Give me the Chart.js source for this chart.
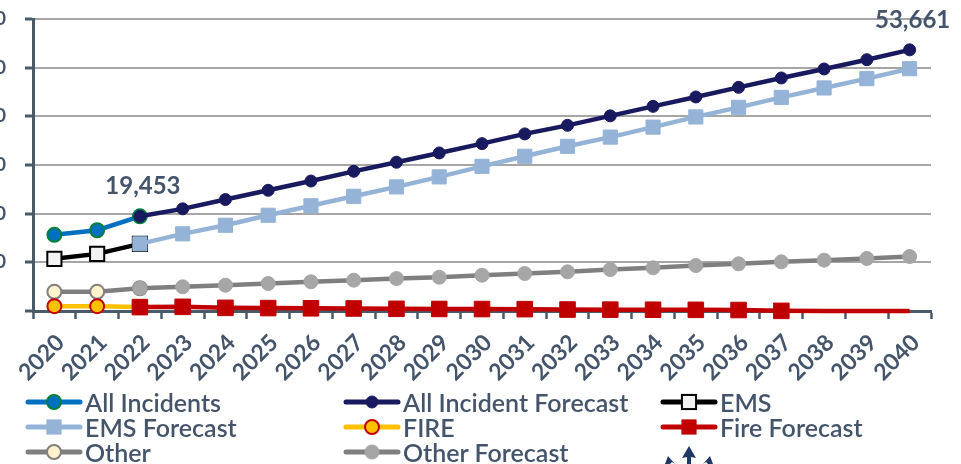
<!DOCTYPE html>
<html>
<head>
<meta charset="utf-8">
<title>Incident forecast</title>
<script src="https://cdn.jsdelivr.net/npm/chart.js@4.4.1/dist/chart.umd.min.js"></script>
<style>
  html, body { margin: 0; padding: 0; background: #fff; width: 961px; height: 464px; overflow: hidden; position: relative; font-family: Lato, sans-serif; }
  #wrap { position: absolute; left: -60px; top: 0; width: 1021px; height: 392px; }
  #legend { position: absolute; left: 0; top: 0; width: 961px; height: 464px; pointer-events: none; }
  .item { position: absolute; height: 28px; display: flex; align-items: center; color: #44546A; font-size: 25px; font-weight: 600; white-space: nowrap; }
  .item svg { margin-right: 2px; flex: none; }
  #logo { position: absolute; left: 660px; top: 444px; }
</style>
</head>
<body>
<div id="wrap"><canvas id="forecastChart"></canvas></div>
<div id="legend"></div>
<svg id="logo" width="60" height="20" viewBox="0 0 60 20">
  <g fill="#1F3864">
    <polygon points="29,2 22,14 27,13 27,20 31,20 31,13 36,14"/>
    <polygon points="8,12 5,20 10,20 12,18 15,20"/>
    <polygon points="50,12 43,20 46,18 48,20 53,20"/>
  </g>
</svg>

<script>
  const years = ['2020', '2021', '2022', '2023', '2024', '2025', '2026', '2027', '2028', '2029', '2030',
                 '2031', '2032', '2033', '2034', '2035', '2036', '2037', '2038', '2039', '2040'];

  // actuals 2020-2022, forecasts 2022-2040
  const allIncidents = [15650, 16590, 19453, null, null, null, null, null, null, null, null,
                        null, null, null, null, null, null, null, null, null, null];
  const allIncidentForecast = [null, null, 19453, 20990, 22900, 24800, 26700, 28700, 30560, 32480, 34390,
                               36390, 38150, 40100, 42050, 43980, 45960, 47880, 49730, 51640, 53661];
  const ems = [10720, 11740, 13800, null, null, null, null, null, null, null, null,
               null, null, null, null, null, null, null, null, null, null];
  const emsForecast = [null, null, 13800, 15850, 17620, 19670, 21620, 23570, 25500, 27560, 29730,
                       31790, 33840, 35730, 37780, 39880, 41850, 43900, 45830, 47740, 49790];
  const fire = [990, 990, 800, null, null, null, null, null, null, null, null,
                null, null, null, null, null, null, null, null, null, null];
  const fireForecast = [null, null, 800, 860, 650, 600, 560, 520, 450, 420, 400,
                        380, 300, 280, 260, 240, 200, 30, 0, 0, 0];
  const other = [3940, 3940, 4680, null, null, null, null, null, null, null, null,
                 null, null, null, null, null, null, null, null, null, null];
  const otherForecast = [null, null, 4680, 4970, 5300, 5650, 6000, 6330, 6670, 6940, 7350,
                         7700, 8050, 8520, 8870, 9340, 9700, 10100, 10450, 10800, 11190];

  const yTicks = [0, 10000, 20000, 30000, 40000, 50000, 60000];

  const SLATE = '#44546A';
  const AXIS = '#4B5A69';

  function series(label, data, color, marker, order) {
    return Object.assign({
      label: label,
      data: data,
      borderColor: color,
      backgroundColor: color,
      borderWidth: 4.5,
      tension: 0,
      clip: false,
      order: order,
      pointHoverRadius: 0
    }, marker);
  }

  const datasets = [
    series('All Incidents', allIncidents, '#0070C0',
      { pointStyle: 'circle', pointRadius: 7, pointBackgroundColor: '#0070C0', pointBorderColor: '#00803A', pointBorderWidth: 2 }, 2),
    series('All Incident Forecast', allIncidentForecast, '#191960',
      { pointStyle: 'circle', pointRadius: 6, pointBackgroundColor: '#191960', pointBorderColor: '#191960', pointBorderWidth: 1 }, 1),
    series('EMS', ems, '#000000',
      { pointStyle: 'rect', pointRadius: 10, pointBackgroundColor: '#F2F2F2', pointBorderColor: '#000000', pointBorderWidth: 2 }, 4),
    series('EMS Forecast', emsForecast, '#95B3D7',
      { pointStyle: 'rect', pointRadius: 10, pointBackgroundColor: '#95B3D7', pointBorderColor: '#95B3D7', pointBorderWidth: 1 }, 3),
    series('FIRE', fire, '#FFC000',
      { pointStyle: 'circle', pointRadius: 7, pointBackgroundColor: '#FFC000', pointBorderColor: '#C00000', pointBorderWidth: 2 }, 6),
    // markers drop off once the forecast reaches zero
    series('Fire Forecast', fireForecast, '#C00000',
      { pointStyle: 'rect', pointRadius: c => (c.raw > 0 ? 11 : 0), pointBackgroundColor: '#C00000', pointBorderColor: '#C00000', pointBorderWidth: 1 }, 5),
    series('Other', other, '#7F7F7F',
      { pointStyle: 'circle', pointRadius: 7, pointBackgroundColor: '#FFF2CC', pointBorderColor: '#7F7F7F', pointBorderWidth: 2 }, 8),
    series('Other Forecast', otherForecast, '#7F7F7F',
      { pointStyle: 'circle', pointRadius: 7, pointBackgroundColor: '#A6A6A6', pointBorderColor: '#A6A6A6', pointBorderWidth: 1 }, 7)
  ];

  // value callouts: [dataset index, point index]
  const callouts = [[0, 2], [1, 20]];

  const calloutPlugin = {
    id: 'callouts',
    afterDatasetsDraw(chart) {
      const ctx = chart.ctx;
      ctx.save();
      ctx.font = 'bold 24px Lato, sans-serif';
      ctx.fillStyle = SLATE;
      ctx.textAlign = 'center';
      ctx.textBaseline = 'middle';
      callouts.forEach(([d, i]) => {
        const pt = chart.getDatasetMeta(d).data[i];
        const v = chart.data.datasets[d].data[i];
        ctx.fillText(v.toLocaleString('en-US'), pt.x + 3, pt.y - 30);
      });
      ctx.restore();
    }
  };

  const chart = new Chart(document.getElementById('forecastChart'), {
    type: 'line',
    data: { labels: years, datasets: datasets },
    plugins: [calloutPlugin],
    options: {
      responsive: true,
      maintainAspectRatio: false,
      animation: false,
      events: [],
      layout: { padding: { top: 19, right: 30, bottom: 0, left: 0 } },
      plugins: { legend: { display: false }, tooltip: { enabled: false } },
      scales: {
        x: {
          offset: true,
          grid: { offset: true, drawOnChartArea: false, tickLength: 8, tickColor: AXIS, tickWidth: 2.5 },
          border: { color: AXIS, width: 3 },
          ticks: {
            minRotation: 45, maxRotation: 45, autoSkip: false, padding: 10, labelOffset: 6,
            color: SLATE, font: { family: 'Lato, sans-serif', weight: 'bold', size: 23 }
          },
          afterFit: s => { s.height = 81; }
        },
        y: {
          min: 0, max: 60000,
          afterBuildTicks: s => { s.ticks = yTicks.map(v => ({ value: v })); },
          grid: { color: '#A6A6A6', lineWidth: 2, tickLength: 8, tickColor: AXIS, tickWidth: 3 },
          border: { color: AXIS, width: 3 },
          ticks: {
            padding: 19, color: SLATE,
            font: { family: 'Lato, sans-serif', weight: 'bold', size: 19 },
            callback: v => (v === 0 ? '' : v.toLocaleString('en-US'))
          },
          afterFit: s => { s.width = 93; s.paddingTop = 0; s.paddingBottom = 0; }
        }
      }
    }
  });

  // three-column legend built from the dataset styles
  const legendCols = [25, 343, 660];
  const legendRows = [402, 427, 452];
  const legend = document.getElementById('legend');
  const NS = 'http://www.w3.org/2000/svg';

  datasets.forEach((ds, k) => {
    const item = document.createElement('div');
    item.className = 'item';
    item.style.left = legendCols[k % 3] + 'px';
    item.style.top = (legendRows[Math.floor(k / 3)] - 14) + 'px';

    const svg = document.createElementNS(NS, 'svg');
    svg.setAttribute('width', 58);
    svg.setAttribute('height', 22);
    const line = document.createElementNS(NS, 'line');
    line.setAttribute('x1', 3); line.setAttribute('x2', 55);
    line.setAttribute('y1', 11); line.setAttribute('y2', 11);
    line.setAttribute('stroke', ds.borderColor);
    line.setAttribute('stroke-width', 5);
    line.setAttribute('stroke-linecap', 'round');
    svg.appendChild(line);

    const r = typeof ds.pointRadius === 'number' ? ds.pointRadius : 10;
    let mark;
    if (ds.pointStyle === 'rect') {
      const side = r * Math.SQRT2;
      mark = document.createElementNS(NS, 'rect');
      mark.setAttribute('x', 29 - side / 2); mark.setAttribute('y', 11 - side / 2);
      mark.setAttribute('width', side); mark.setAttribute('height', side);
    } else {
      mark = document.createElementNS(NS, 'circle');
      mark.setAttribute('cx', 29); mark.setAttribute('cy', 11); mark.setAttribute('r', r);
    }
    mark.setAttribute('fill', ds.pointBackgroundColor);
    mark.setAttribute('stroke', ds.pointBorderColor);
    mark.setAttribute('stroke-width', ds.pointBorderWidth);
    svg.appendChild(mark);

    item.appendChild(svg);
    item.appendChild(document.createTextNode(ds.label));
    legend.appendChild(item);
  });
</script>
</body>
</html>
